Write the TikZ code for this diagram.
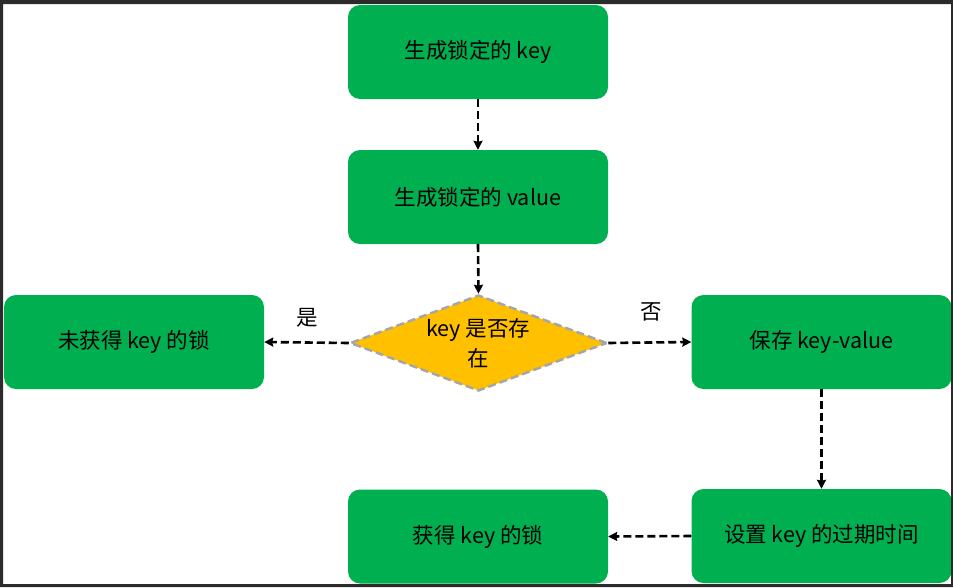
\documentclass[tikz,border=0pt]{standalone}
\usepackage{fontspec}
\setmainfont{Noto Sans CJK SC}
\usetikzlibrary{shapes.geometric,arrows.meta}
\definecolor{boxgreen}{HTML}{00B050}
\definecolor{decgold}{HTML}{FFC000}
\definecolor{decedge}{HTML}{A6A6A6}
\definecolor{framegray}{HTML}{2B2B2B}
\tikzset{
  stepbox/.style={rectangle, rounded corners=12pt, fill=boxgreen, minimum width=260pt, minimum height=94pt, inner sep=0pt, font=\fontsize{21.5}{26}\selectfont, text=black},
  decbox/.style={diamond, fill=decgold, draw=decedge, line width=2.5pt, dash pattern=on 8pt off 4pt, minimum width=257pt, minimum height=96pt, aspect=2.68, inner sep=0pt, align=center, font=\fontsize{21.5}{30}\selectfont},
  conn/.style={draw=black, line width=2.6pt, dash pattern=on 8pt off 4pt, -{Stealth[length=9pt,width=9pt,inset=1pt]}},
  lbl/.style={font=\fontsize{21.5}{26}\selectfont, text=black, inner sep=0pt}
}
\begin{document}
\begin{tikzpicture}[x=1pt,y=-1pt]
\useasboundingbox (0,0) rectangle (953,587);
\fill[white] (0,0) rectangle (953,587);
\node[stepbox] (b1) at (478,52) {生成锁定的 key};
\node[stepbox] (b2) at (478,197) {生成锁定的 value};
\node[decbox] (d) at (478.5,343) {key 是否存\\在};
\node[stepbox] (no) at (134,342) {未获得 key 的锁};
\node[stepbox] (save) at (821.5,342) {保存 key-value};
\node[stepbox] (exp) at (821.5,536) {设置 key 的过期时间};
\node[stepbox] (got) at (478,536.5) {获得 key 的锁};
\draw[conn] (b1.south) -- (b2.north);
\draw[conn] (b2.south) -- (d.north);
\draw[conn] (d.west) -- (no.east);
\draw[conn] (d.east) -- (save.west);
\draw[conn] (save.south) -- (exp.north);
\draw[conn] (exp.west) -- (got.east);
\node[lbl] (yes) at (307,318) {是};
\node[lbl] (nolbl) at (651,312) {否};
\fill[framegray, even odd rule] (0,0) rectangle (953,587) (3,4) rectangle (951,584);
\end{tikzpicture}
\end{document}
